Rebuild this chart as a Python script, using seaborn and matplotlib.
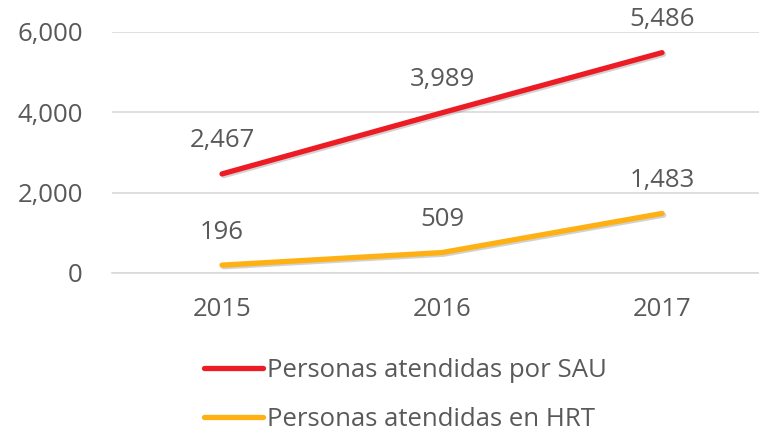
import pandas as pd
import numpy as np
import matplotlib
matplotlib.use('Agg')
import matplotlib.pyplot as plt
import matplotlib.patheffects as pe
from matplotlib.ticker import FuncFormatter, FixedLocator
from matplotlib.lines import Line2D
import seaborn as sb

# chart data
years = ['2015', '2016', '2017']
sau_values = [2467, 3989, 5486]
hrt_values = [196, 509, 1483]
series_names = ['Personas atendidas por SAU', 'Personas atendidas en HRT']
series_colors = ['#ED1C24', '#FFB013']

df = pd.DataFrame({
    'year': years * 2,
    'value': sau_values + hrt_values,
    'serie': [series_names[0]] * len(years) + [series_names[1]] * len(years),
})

sb.set_style('white')
plt.rcParams['font.family'] = ['Open Sans', 'DejaVu Sans']
text_color = '#595959'
grid_color = '#D9D9D9'
fs = 18.5

fig = plt.figure(figsize=(7.59, 4.32), dpi=100)
ax = fig.add_axes([112 / 759, (432 - 273) / 432, 660 / 759, 241 / 432])

shadow = [pe.SimpleLineShadow(offset=(1.2, -1.2), shadow_color='#7f7f7f', alpha=0.35), pe.Normal()]
sb.lineplot(data=df, x='year', y='value', hue='serie', palette=series_colors,
            linewidth=3.8, ax=ax, legend=False, sort=False)
for line in ax.lines:
    line.set_solid_capstyle('round')
    line.set_path_effects(shadow)

# data labels
for vals in [sau_values, hrt_values]:
    for i, v in enumerate(vals):
        ax.annotate(f'{v:,}', (i, v), xytext=(0, 26), textcoords='offset points',
                    ha='center', va='center_baseline', fontsize=fs, color=text_color)

ax.set_xlim(-0.5, 2.5)
ax.set_ylim(0, 6000)
ax.set_yticks([0, 2000, 4000, 6000])
ax.yaxis.set_major_formatter(FuncFormatter(lambda v, p: f'{int(v):,}'))
ax.yaxis.grid(True, color=grid_color, linewidth=1.2)
ax.set_axisbelow(True)
ax.set_xlabel('')
ax.set_ylabel('')

for s in ['left', 'top', 'right']:
    ax.spines[s].set_visible(False)
ax.spines['bottom'].set_color(grid_color)
ax.spines['bottom'].set_linewidth(1.2)

ax.tick_params(axis='y', length=0, pad=21, labelsize=fs, labelcolor=text_color)
ax.tick_params(axis='x', which='major', length=0, pad=17, labelsize=fs, labelcolor=text_color)
ax.xaxis.set_minor_locator(FixedLocator([-0.5, 0.5, 1.5, 2.5]))
ax.tick_params(axis='x', which='minor', length=6, width=1.2, color=grid_color, direction='out')

handles = [Line2D([0], [0], color=c, linewidth=3.8, solid_capstyle='round') for c in series_colors]
fig.legend(handles, series_names, loc='upper left', bbox_to_anchor=(204 / 759, 1 - 358 / 432),
           frameon=False, fontsize=fs, labelcolor=text_color, handlelength=2.3,
           handletextpad=0.15, labelspacing=0.95, borderaxespad=0, borderpad=0)

fig.savefig('out.png', dpi=100)
